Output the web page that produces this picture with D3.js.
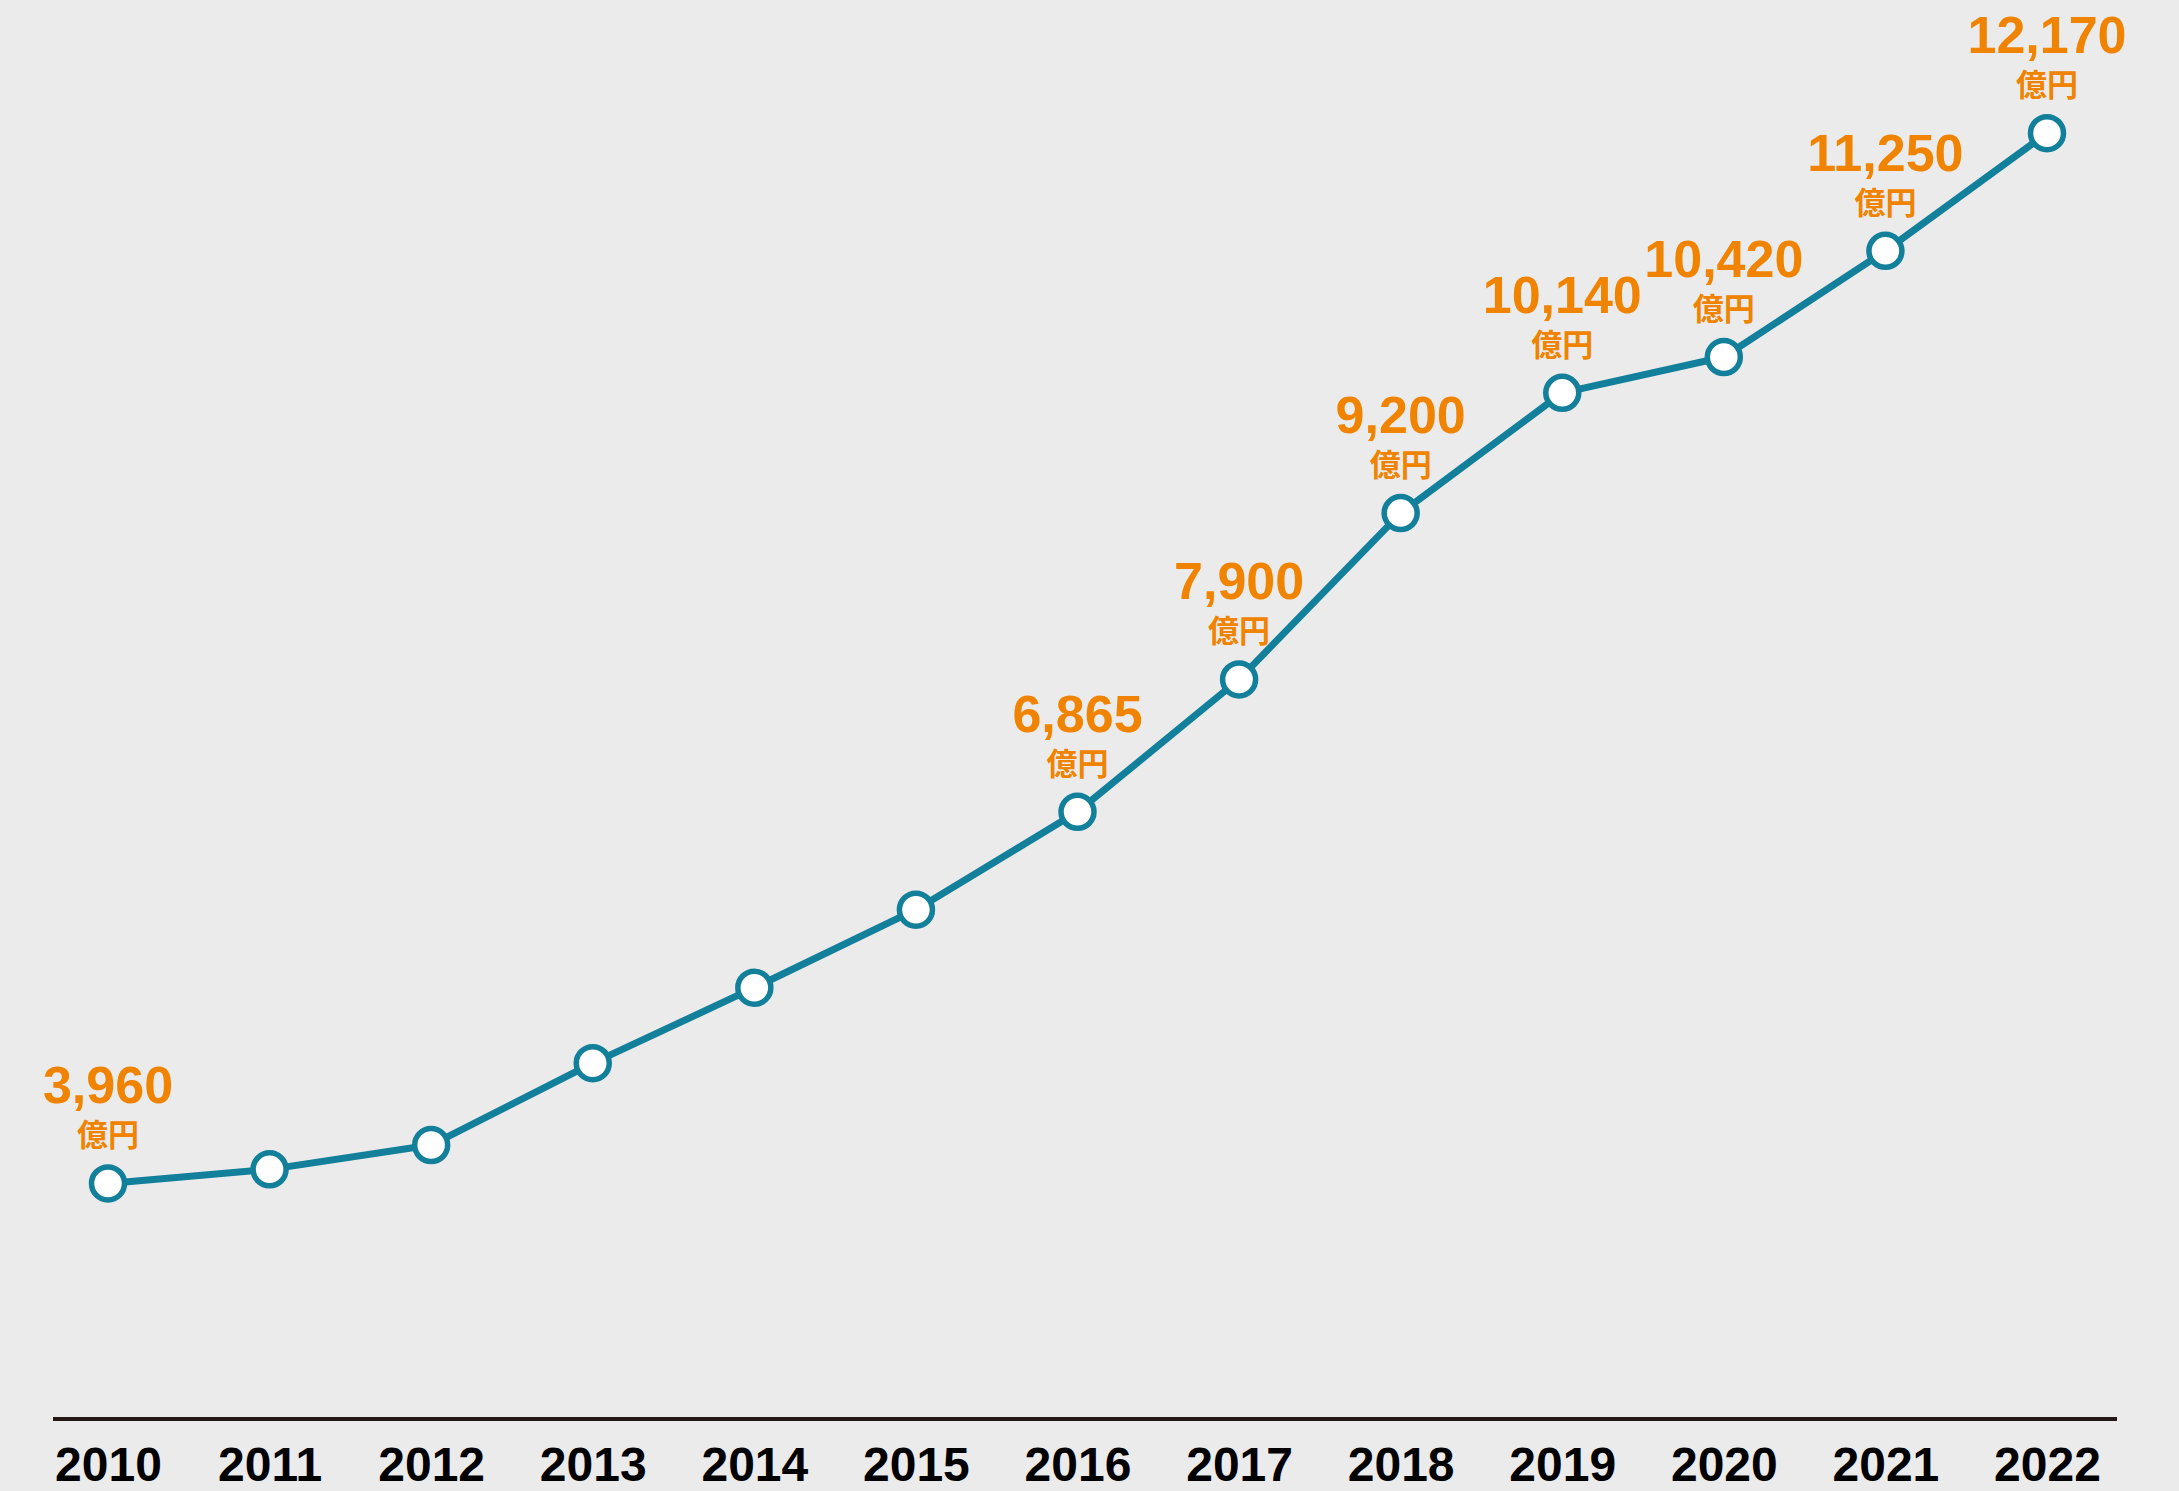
<!DOCTYPE html>
<html>
<head>
<meta charset="utf-8">
<script src="https://cdn.jsdelivr.net/npm/d3@7"></script>
<style>
  html, body { margin: 0; padding: 0; background: #ebebec; }
</style>
</head>
<body>
<script>
// data (億円)
var years = [2010, 2011, 2012, 2013, 2014, 2015, 2016, 2017, 2018, 2019, 2020, 2021, 2022];
var values = [3960, 4070, 4260, 4900, 5490, 6100, 6865, 7900, 9200, 10140, 10420, 11250, 12170];
// years that carry a value label
var labeledYears = [2010, 2016, 2017, 2018, 2019, 2020, 2021, 2022];
var unit = "億円";

var totalWidth = 2179,
	totalHeight = 1491,
	axisY = 1419;

var data = years.map(function(y, i){ return {year: y, value: values[i]}; });

var svg = d3.select("body").append("svg")
	.attr("width", totalWidth)
	.attr("height", totalHeight)
	.style("display", "block");

svg.append("rect")
	.attr("width", totalWidth)
	.attr("height", totalHeight)
	.attr("fill", "#ebebec");

var xScale = d3.scalePoint()
	.domain(years)
	.range([108, 2047]);

var yScale = d3.scaleLinear()
	.domain([0, 13000])
	.range([1690, 27]);

// baseline
svg.append("line")
	.attr("x1", xScale(years[0]) - 55)
	.attr("x2", xScale(years[years.length - 1]) + 70)
	.attr("y1", axisY)
	.attr("y2", axisY)
	.attr("stroke", "#231815")
	.attr("stroke-width", 4);

// year labels
var xAxis = d3.axisBottom(xScale)
	.tickSize(0)
	.tickPadding(0);

var gx = svg.append("g")
	.attr("transform", "translate(0," + axisY + ")")
	.call(xAxis);
gx.select(".domain").remove();
gx.selectAll("text")
	.attr("y", 62)
	.attr("dy", null)
	.attr("fill", "#000")
	.style("font-family", "'Liberation Sans', Arial, sans-serif")
	.style("font-weight", "bold")
	.style("font-size", "48px");

// line
var line = d3.line()
	.x(function(d){ return xScale(d.year); })
	.y(function(d){ return yScale(d.value); });

svg.append("path")
	.datum(data)
	.attr("d", line)
	.attr("fill", "none")
	.attr("stroke", "#127f9b")
	.attr("stroke-width", 7)
	.attr("stroke-linejoin", "round");

// markers
svg.append("g")
	.selectAll("circle")
	.data(data)
	.enter().append("circle")
	.attr("cx", function(d){ return xScale(d.year); })
	.attr("cy", function(d){ return yScale(d.value); })
	.attr("r", 16.5)
	.attr("fill", "#fff")
	.attr("stroke", "#127f9b")
	.attr("stroke-width", 5.5);

// value labels
var labeled = data.filter(function(d){ return labeledYears.indexOf(d.year) >= 0; });

var lbl = svg.append("g")
	.selectAll("g")
	.data(labeled)
	.enter().append("g")
	.attr("transform", function(d){ return "translate(" + xScale(d.year) + "," + yScale(d.value) + ")"; })
	.attr("fill", "#f08300")
	.attr("text-anchor", "middle");

lbl.append("text")
	.attr("y", -80)
	.style("font-family", "'Liberation Sans', Arial, sans-serif")
	.style("font-weight", "bold")
	.style("font-size", "52px")
	.text(function(d){ return d3.format(",")(d.value); });

lbl.append("text")
	.attr("y", -37)
	.style("font-family", "'Noto Sans CJK JP', sans-serif")
	.style("font-weight", "bold")
	.style("font-size", "31px")
	.text(unit);
</script>
</body>
</html>
